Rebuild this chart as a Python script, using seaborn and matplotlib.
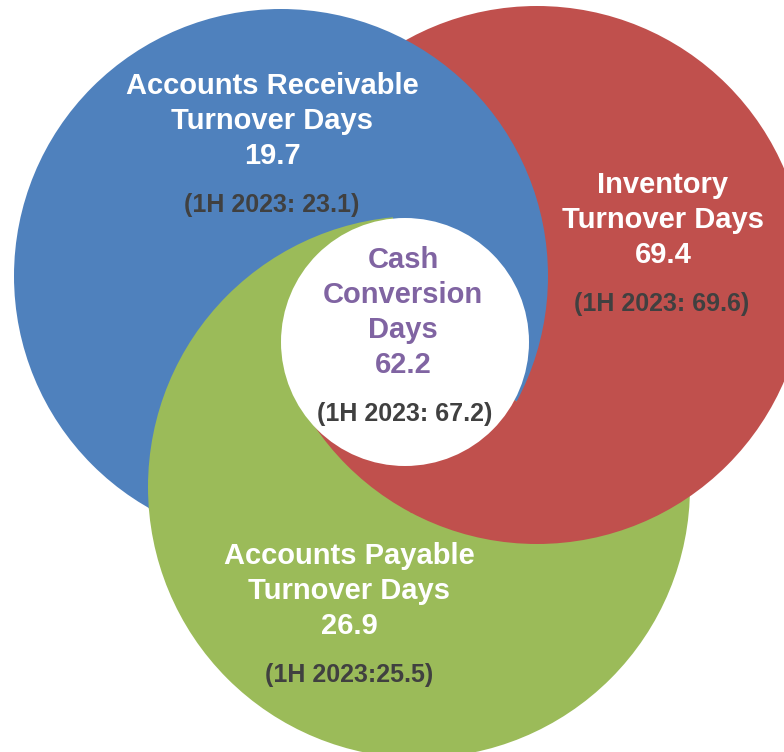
import numpy as np
import matplotlib
matplotlib.use("Agg")
import matplotlib.pyplot as plt
from matplotlib.patches import Circle, Polygon
import seaborn as sns

# ---------------- data ----------------
metric_names = ["Accounts Receivable\nTurnover Days",
                "Inventory\nTurnover Days",
                "Accounts Payable\nTurnover Days",
                "Cash\nConversion\nDays"]
current_days = [19.7, 69.4, 26.9, 62.2]
prior_period = "1H 2023"
prior_days = [23.1, 69.6, 25.5, 67.2]
prior_sep = [": ", ": ", ":", ": "]

# ---------------- layout / style ----------------
W, H = 784, 752
circ_centers = {"blue": (281, 276), "red": (537, 275), "green": (419, 487), "white": (405, 342)}
circ_radii = {"blue": 267, "red": 269, "green": 271, "white": 124}
palette = sns.color_palette(["#4F81BD", "#C0504D", "#9BBB59"])
colors = {"blue": palette[0], "red": palette[1], "green": palette[2]}
col_purple = "#8064A2"
col_gray = "#404040"

label_x = [272, 663, 349, 403]
label_first_baseline = [94, 193, 564, 268]
sub_x = [272, 662, 349, 405]
line_step = 35
sub_gap = 48
label_colors = ["white", "white", "white", col_purple]

sns.set_theme(style="white")
plt.rcParams['font.family'] = ['Liberation Sans', 'DejaVu Sans']

fig = plt.figure(figsize=(W / 100, H / 100), dpi=100)
ax = fig.add_axes([0, 0, 1, 1])
ax.set_xlim(0, W)
ax.set_ylim(H, 0)
ax.axis("off")

wc = np.array(circ_centers["white"], dtype=float)


def ang(key):
    c = circ_centers[key]
    return np.degrees(np.arctan2(wc[1] - c[1], wc[0] - c[0]))


def star_clip(center, radius, a1, a2, n=1200):
    """Disk ∩ wedge (vertex at the white centre, inside the disk)."""
    c = np.array(center, dtype=float)
    v = wc - c
    t = np.radians(np.linspace(a1, a2, n))
    u = np.stack([np.cos(t), np.sin(t)], axis=1)
    uv = u @ v
    d = -uv + np.sqrt(uv ** 2 - (v @ v - radius ** 2))
    pts = wc + u * d[:, None]
    poly = Polygon(np.vstack([wc, pts]), closed=True)
    poly.set_transform(ax.transData)
    return poly


aB, aR, aG = ang("blue"), ang("red"), ang("green")

# base stack: blue > red > green
for k, key in enumerate(["green", "red", "blue"]):
    ax.add_patch(Circle(circ_centers[key], circ_radii[key], facecolor=colors[key],
                        edgecolor="none", zorder=1 + 0.01 * k))

# swirl overlay A: green over blue (lower-left and left sectors)
gA = Circle(circ_centers["green"], circ_radii["green"], facecolor=colors["green"],
            edgecolor="none", zorder=2)
ax.add_patch(gA)
gA.set_clip_path(star_clip(circ_centers["blue"], circ_radii["blue"] + 1.5, aB, aG + 360))

# swirl overlay B: red on top in the bottom sector
rB = Circle(circ_centers["red"], circ_radii["red"], facecolor=colors["red"],
            edgecolor="none", zorder=3)
ax.add_patch(rB)
rB.set_clip_path(star_clip(circ_centers["blue"], circ_radii["blue"] + 3.5, aB, aR))

ax.add_patch(Circle(tuple(wc), circ_radii["white"], facecolor="white", edgecolor="none", zorder=4))

# labels
for i, name in enumerate(metric_names):
    lines = name.split("\n") + [f"{current_days[i]:.1f}"]
    y = label_first_baseline[i]
    for ln in lines:
        ax.text(label_x[i], y, ln, ha="center", va="baseline", fontsize=21,
                fontweight="bold", color=label_colors[i], zorder=5)
        y += line_step
    y_sub = y - line_step + sub_gap
    ax.text(sub_x[i], y_sub, f"({prior_period}{prior_sep[i]}{prior_days[i]:.1f})",
            ha="center", va="baseline", fontsize=18, fontweight="bold",
            color=col_gray, zorder=5)

fig.savefig("out.png", dpi=100)
